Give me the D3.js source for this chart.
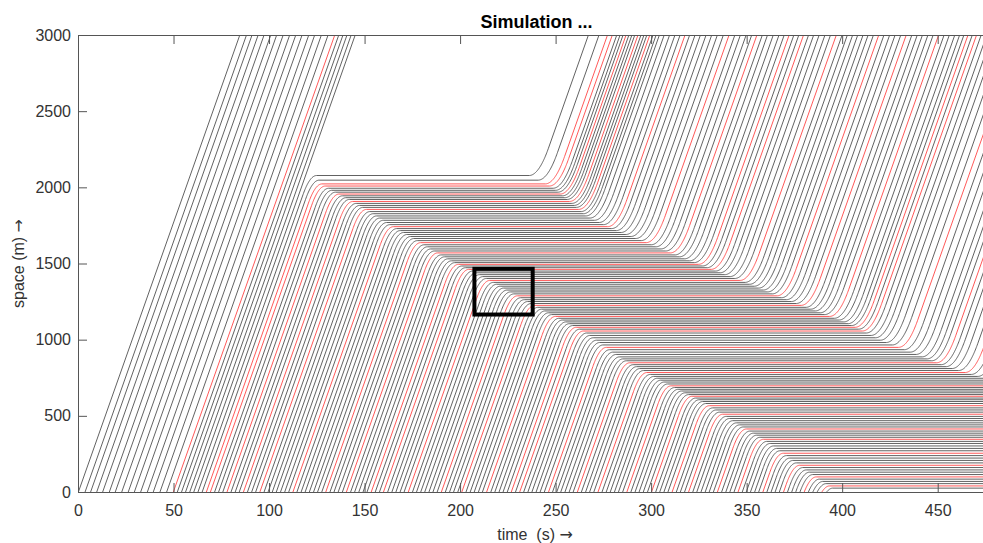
<!DOCTYPE html>
<html>
<head>
<meta charset="utf-8">
<script src="https://cdn.jsdelivr.net/npm/d3@7"></script>
<style>
  body { margin: 0; background: #fff; }
  svg { display: block; font-family: "Liberation Sans", Arial, sans-serif; }
</style>
</head>
<body>
<svg id="chart" width="983" height="543"></svg>
<script>
// ---------- values ----------

// time (s) at which each vehicle passes s = 0
const entryTimes = [
  0.2, 3.7, 6.6, 9.8, 12.9, 16.4, 19.5, 22.9, 26.3, 29.5, 32.8, 36.3, 39.4, 42.9, 46.4,
  49.9, 52.0, 54.2, 56.3, 58.5, 60.6, 62.8, 65.0, 67.2, 69.3, 71.5, 73.6, 75.8, 78.0, 80.1,
  82.3, 84.4, 86.6, 88.7, 90.9, 93.0, 95.2, 97.4, 99.5, 101.7, 103.8, 106.0, 108.2, 110.3,
  112.5, 114.6, 116.8, 118.9, 121.1, 123.3, 125.4, 127.6, 129.7, 131.9, 134.0, 136.2, 138.4,
  140.5, 142.7, 144.8, 147.0, 149.2, 151.3, 153.5, 155.6, 157.8, 159.9, 162.1, 164.3, 166.4,
  168.6, 170.7, 172.9, 175.1, 177.2, 179.4, 181.5, 183.7, 185.8, 188.0, 190.2, 192.3, 194.5,
  196.6, 198.8, 200.9, 203.1, 205.3, 207.4, 209.6, 211.7, 213.9, 216.1, 218.2, 220.4, 222.5,
  224.7, 226.8, 229.0, 231.2, 233.3, 235.5, 237.6, 239.8, 241.9, 244.1, 246.3, 248.4, 250.6,
  252.7, 254.9, 257.1, 259.2, 261.4, 263.5, 265.7, 267.8, 270.0, 272.2, 274.3, 276.5, 278.6,
  280.8, 282.9, 285.1, 287.3, 289.4, 291.6, 293.7, 295.9, 298.1, 300.2, 302.4, 304.5, 306.7,
  308.8, 311.0, 313.2, 315.3, 317.5, 319.6, 321.8, 323.9, 326.1, 328.3, 330.4, 332.6, 334.7,
  336.9, 339.1, 341.2, 343.4, 345.5, 347.7, 349.8, 352.0, 354.2, 356.3, 358.5, 360.6, 362.8,
  364.9, 367.1, 369.3, 371.4, 373.6, 375.7, 377.9, 380.1, 382.2, 384.4, 386.5, 388.7, 390.8
];

// vehicles drawn in red (index into entryTimes)
const redVehicles = [15, 23, 24, 28, 32, 36, 44, 52, 57, 63, 66, 72, 80, 85, 91, 97, 99,
  106, 113, 118, 125, 131, 136, 140, 147, 152, 158, 163, 168, 172];

// tail of the queue (where arriving vehicles come to a stop)
const formWaveT = [121.0, 123.5, 129.0, 139.0, 148.0, 160.0, 171.0, 182.0, 193.0, 205.0,
  237.0, 262.0, 280.0, 297.7, 306.1, 323.9, 341.2, 358.4, 372.6, 383.0, 389.8];
const formWaveS = [2085, 2028, 1983, 1917, 1851, 1753, 1674, 1589, 1510, 1438,
  1214, 1050, 886, 760, 702, 591, 453, 322, 190, 98, 40];

// head of the queue (where stopped vehicles pull away)
const releaseWaveT = [235.0, 248.0, 258.0, 266.0, 280.0, 297.7, 315.0, 332.3,
  350.0, 367.3, 384.6, 402.4, 419.7, 436.9, 454.7, 472.0];
const releaseWaveS = [2085, 2000, 1900, 1810, 1725, 1635, 1543, 1457,
  1372, 1280, 1195, 1109, 998, 912, 821, 755];

// highlighted window
const boxT = [207.5, 238];
const boxS = [1165, 1465];

const xTicks = [0, 50, 100, 150, 200, 250, 300, 350, 400, 450];
const yTicks = [0, 500, 1000, 1500, 2000, 2500, 3000];

const freeSpeed = 35.5;   // m/s
const decel = 5;          // m/s^2
const accel = 3.5;        // m/s^2

// ---------- chart ----------
const svg = d3.select("#chart");
const x = d3.scaleLinear().domain([0, 480]).range([78, 995]);
const y = d3.scaleLinear().domain([0, 3000]).range([492, 35]);

// s -> t along the two waves
const tailAt = d3.scaleLinear().domain(formWaveS).range(formWaveT);
const releaseAt = d3.scaleLinear().domain(releaseWaveS).range(releaseWaveT);

function trajectory(t0) {
  const v = freeSpeed;
  const sTop = formWaveS[0];
  // passed before the queue started
  if (t0 + sTop / v < formWaveT[0]) return [[t0, 0], [t0 + 3000 / v, 3000]];

  // where the free run meets the tail of the queue
  let lo = 0, hi = sTop;
  for (let k = 0; k < 40; k++) {
    const mid = (lo + hi) / 2;
    if (t0 + mid / v > tailAt(mid)) hi = mid; else lo = mid;
  }
  const p = lo;
  const s1 = p - v * v / (2 * decel);
  const t1 = t0 + s1 / v;
  const tStop = t1 + v / decel;
  const pts = [];
  if (s1 > 0) pts.push([t0, 0]);
  for (let tau = 0; tau < v / decel; tau += 0.25) {
    pts.push([t1 + tau, s1 + v * tau - decel / 2 * tau * tau]);
  }
  pts.push([tStop, p]);

  const r = Math.max(releaseAt(p), tStop);
  if (r > 490) { pts.push([490, p]); return pts; }
  pts.push([r, p]);
  for (let tau = 0.25; tau < v / accel; tau += 0.25) {
    pts.push([r + tau, p + accel / 2 * tau * tau]);
  }
  const s2 = p + v * v / (2 * accel);
  const t2 = r + v / accel;
  pts.push([t2, s2]);
  pts.push([t2 + (3000 - s2) / v, 3000]);
  return pts;
}

svg.append("defs").append("clipPath").attr("id", "plotClip")
  .append("rect")
  .attr("x", x(0)).attr("y", y(3000))
  .attr("width", x(480) - x(0)).attr("height", y(0) - y(3000));

const line = d3.line().x(d => x(d[0])).y(d => y(d[1]));
const red = new Set(redVehicles);

svg.append("g")
  .attr("clip-path", "url(#plotClip)")
  .selectAll("path")
  .data(entryTimes.map((t0, i) => ({ pts: trajectory(t0), red: red.has(i) })))
  .enter().append("path")
  .attr("d", d => line(d.pts))
  .attr("fill", "none")
  .attr("stroke", d => d.red ? "#ff4646" : "#505050")
  .attr("stroke-width", 0.9);

// highlighted window
svg.append("rect")
  .attr("x", x(boxT[0]))
  .attr("y", y(boxS[1]))
  .attr("width", x(boxT[1]) - x(boxT[0]))
  .attr("height", y(boxS[0]) - y(boxS[1]))
  .attr("fill", "none")
  .attr("stroke", "#000")
  .attr("stroke-width", 4);

// axes (MATLAB style box, ticks pointing in)
const axisColor = "#555";
function styleAxis(g) {
  g.selectAll(".domain").attr("stroke", axisColor);
  g.selectAll(".tick line").attr("stroke", axisColor);
  g.selectAll(".tick text").attr("fill", "#333").style("font-size", "16px");
}

svg.append("g")
  .attr("transform", `translate(0,${y(0)})`)
  .call(d3.axisBottom(x).tickValues(xTicks).tickSize(-9).tickSizeOuter(0)
    .tickPadding(13).tickFormat(d3.format("d")))
  .call(styleAxis);

svg.append("g")
  .attr("transform", `translate(0,${y(3000)})`)
  .call(d3.axisTop(x).tickValues(xTicks).tickSize(-9).tickSizeOuter(0).tickFormat(""))
  .call(styleAxis);

svg.append("g")
  .attr("transform", `translate(${x(0)},0)`)
  .call(d3.axisLeft(y).tickValues(yTicks).tickSize(-9).tickSizeOuter(0)
    .tickPadding(7).tickFormat(d3.format("d")))
  .call(styleAxis);

svg.append("text")
  .attr("x", (x(0) + x(480)) / 2)
  .attr("y", 28)
  .attr("text-anchor", "middle")
  .style("font-size", "18px")
  .style("font-weight", "bold")
  .attr("fill", "#000")
  .text("Simulation ...");

const xLabel = svg.append("text")
  .attr("x", 535)
  .attr("y", 540)
  .attr("text-anchor", "middle")
  .style("font-size", "16px")
  .style("white-space", "pre")
  .attr("fill", "#333");
xLabel.append("tspan").text("time  (s) ");
xLabel.append("tspan").style("font-family", "DejaVu Sans").text("\u2192");

const yLabel = svg.append("text")
  .attr("transform", `translate(24,${(y(0) + y(3000)) / 2}) rotate(-90)`)
  .attr("text-anchor", "middle")
  .style("font-size", "16px")
  .attr("fill", "#333");
yLabel.append("tspan").text("space (m) ");
yLabel.append("tspan").style("font-family", "DejaVu Sans").text("\u2192");
</script>
</body>
</html>
